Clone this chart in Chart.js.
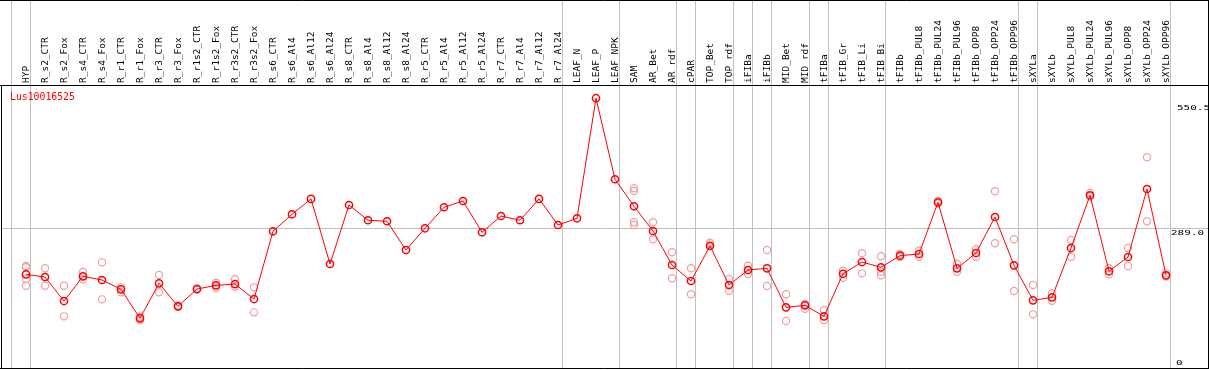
<!DOCTYPE html>
<html>
<head>
<meta charset="utf-8">
<script src="https://cdn.jsdelivr.net/npm/chart.js@4.4.1/dist/chart.umd.min.js"></script>
<style>
  html, body { margin: 0; padding: 0; background: #fff; }
  #wrap { width: 1209px; height: 370px; }
</style>
</head>
<body>
<div id="wrap"><canvas id="chart" width="1209" height="370"></canvas></div>
<script>
const geneId = 'Lus10016525';

const categories = [
  'HYP', 'R_s2_CTR', 'R_s2_Fox', 'R_s4_CTR', 'R_s4_Fox', 'R_r1_CTR', 'R_r1_Fox',
  'R_r3_CTR', 'R_r3_Fox', 'R_r1s2_CTR', 'R_r1s2_Fox', 'R_r3s2_CTR', 'R_r3s2_Fox',
  'R_s6_CTR', 'R_s6_Al4', 'R_s6_Al12', 'R_s6_Al24', 'R_s8_CTR', 'R_s8_Al4',
  'R_s8_Al12', 'R_s8_Al24', 'R_r5_CTR', 'R_r5_Al4', 'R_r5_Al12', 'R_r5_Al24',
  'R_r7_CTR', 'R_r7_Al4', 'R_r7_Al12', 'R_r7_Al24', 'LEAF_N', 'LEAF_P', 'LEAF_NPK',
  'SAM', 'AR_Bet', 'AR_rdf', 'cPAR', 'TOP_Bet', 'TOP_rdf', 'iFIBa', 'iFIBb',
  'MID_Bet', 'MID_rdf', 'tFIBa', 'tFIB_Gr', 'tFIB_Li', 'tFIB_Bi', 'tFIBb',
  'tFIBb_PUL8', 'tFIBb_PUL24', 'tFIBb_PUL96', 'tFIBb_OPP8', 'tFIBb_OPP24', 'tFIBb_OPP96',
  'sXYLa', 'sXYLb', 'sXYLb_PUL8', 'sXYLb_PUL24', 'sXYLb_PUL96', 'sXYLb_OPP8',
  'sXYLb_OPP24', 'sXYLb_OPP96'
];

// mean expression (red line)
const means = [
  197.0, 191.6, 143.4, 193.0, 185.6, 166.9, 108.7, 179.0, 132.8, 167.5,
  174.9, 177.5, 147.4, 283.4, 317.5, 348.3, 217.7, 336.2, 305.5, 303.5,
  245.8, 289.4, 331.6, 344.2, 281.4, 314.1, 305.5, 348.3, 296.0, 309.5,
  550.5, 387.8, 333.6, 284.0, 215.7, 183.6, 253.9, 175.5, 205.7, 209.1,
  130.7, 134.8, 112.7, 198.2, 221.7, 211.1, 234.4, 237.8, 341.6, 209.1,
  239.8, 312.1, 215.1, 144.8, 150.8, 249.8, 355.7, 203.1, 231.8, 368.3,
  195.0
];

// replicates (pink circles), null where none shown
const repA = [
  213.7, 209.1, 174.1, 201.6, 221.1, 170.9, 111.9, 195.6, 132.0, 166.5,
  180.2, 187.0, 170.9, null, null, null, null, null, null, null,
  null, null, null, null, null, null, null, null, null, null,
  null, null, 369.8, 301.5, 241.2, 209.1, 260.5, 187.6, 214.3, 245.8,
  156.9, 137.4, 125.3, 204.3, 239.2, 233.2, 237.8, 244.4, 344.8, 217.7,
  247.2, 363.7, 267.3, 175.5, 158.9, 265.9, 360.3, 209.1, 249.8, 432.0,
  199.0
];
const repB = [
  211.1, 174.1, 112.7, 187.0, 146.8, 160.9, 104.6, 160.9, 134.4, 168.5,
  170.1, 172.1, 120.7, null, null, null, null, null, null, null,
  null, null, null, null, null, null, null, null, null, null,
  null, null, 364.3, 267.3, 189.0, 156.9, 256.9, 164.1, 197.6, 173.5,
  103.2, 127.9, 105.2, 190.2, 199.0, 202.2, 232.4, 232.4, 339.2, 202.2,
  231.8, 259.3, 163.5, 116.7, 144.0, 232.4, 353.3, 197.0, 213.7, 303.5,
  192.6
];
const repC = { 0: 187.6, 32: 301.5, 45: 195.0 };
const repD = { 0: 174.1, 32: 296.0 };

// grey separators drawn just after these category indices
const groupBreaks = [-1, 0, 28, 31, 34, 35, 37, 38, 39, 41, 42, 45, 52, 53, 60];
const yLabels = [550.5, 289.0, 0];

const lineData = means.map((v, i) => ({ x: i, y: v }));
const repData = [];
[repA, repB].forEach(arr => arr.forEach((v, i) => { if (v != null) repData.push({ x: i, y: v }); }));
[repC, repD].forEach(o => Object.keys(o).forEach(k => repData.push({ x: +k, y: o[k] })));

const mono = 'DejaVu Sans Mono';

const decorations = {
  id: 'decorations',
  beforeDatasetsDraw(chart) {
    const { ctx, scales: { x }, chartArea } = chart;
    ctx.save();
    ctx.strokeStyle = '#c0c0c0';
    ctx.lineWidth = 1;
    groupBreaks.forEach(b => {
      const px = Math.round(x.getPixelForValue(b + 0.215)) + 0.5;
      ctx.beginPath();
      ctx.moveTo(px, 0);
      ctx.lineTo(px, chartArea.bottom);
      ctx.stroke();
    });
    ctx.restore();
  },
  afterDraw(chart) {
    const { ctx, scales: { y }, chartArea, width } = chart;
    ctx.save();
    // frame
    ctx.strokeStyle = '#000';
    ctx.lineWidth = 1;
    ctx.beginPath();
    ctx.moveTo(0, 0.5); ctx.lineTo(width, 0.5);
    ctx.moveTo(0, chartArea.top + 0.5); ctx.lineTo(chartArea.right + 1, chartArea.top + 0.5);
    ctx.moveTo(0, chartArea.bottom - 0.5); ctx.lineTo(chartArea.right + 1, chartArea.bottom - 0.5);
    ctx.moveTo(chartArea.left + 0.5, chartArea.top); ctx.lineTo(chartArea.left + 0.5, chartArea.bottom);
    ctx.moveTo(chartArea.right + 0.5, 0); ctx.lineTo(chartArea.right + 0.5, chartArea.bottom);
    ctx.stroke();

    // gene id
    ctx.fillStyle = '#ff0000';
    ctx.font = `9.8px "${mono}"`;
    ctx.textBaseline = 'middle';
    ctx.textAlign = 'left';
    ctx.fillText(geneId, chartArea.left + 9, chartArea.top + 12.5);

    // value labels on the right
    ctx.fillStyle = '#000';
    ctx.font = `11px "${mono}"`;
    ctx.textBaseline = 'top';
    const shifts = { 550.5: [1177, 5.8], 289: [1171, 0.5], 0: [1176, 0] };
    yLabels.forEach(v => {
      const [lx, dy] = shifts[v];
      let top = y.getPixelForValue(v) + dy;
      top = Math.min(top, chartArea.bottom - 10);
      ctx.save();
      ctx.translate(lx, top);
      ctx.scale(1, 0.66);
      ctx.fillText(v === 0 ? '0' : v.toFixed(1), 0, 0);
      ctx.restore();
    });
    ctx.restore();
  }
};

new Chart(document.getElementById('chart'), {
  data: {
    datasets: [
      {
        type: 'line',
        data: lineData,
        borderColor: '#ff0000',
        borderWidth: 1,
        pointRadius: 3.6,
        pointBorderWidth: 1.5,
        pointBorderColor: '#ff0000',
        pointBackgroundColor: 'rgba(0,0,0,0)',
        tension: 0,
        order: 0
      },
      {
        type: 'scatter',
        data: repData,
        pointRadius: 3.6,
        pointBorderWidth: 1.2,
        pointBorderColor: '#f0a0a0',
        pointBackgroundColor: 'rgba(0,0,0,0)',
        order: 1
      }
    ]
  },
  options: {
    responsive: false,
    animation: false,
    devicePixelRatio: 1,
    layout: { autoPadding: false, padding: { left: 1, right: 1, top: 0, bottom: 1 } },
    plugins: { legend: { display: false }, tooltip: { enabled: false } },
    scales: {
      x: {
        type: 'linear',
        position: 'top',
        min: -1.3158,
        max: 62.21,
        afterBuildTicks: s => { s.ticks = categories.map((c, i) => ({ value: i })); },
        afterFit: s => { s.height = 85; s.paddingLeft = 0; s.paddingRight = 0; },
        grid: { display: false, drawTicks: false },
        border: { display: false },
        ticks: {
          autoSkip: false,
          minRotation: 90,
          maxRotation: 90,
          padding: 2,
          labelOffset: 12,
          color: '#000',
          font: { family: mono, size: 9.5 },
          callback: v => categories[v] ?? ''
        }
      },
      y: {
        type: 'linear',
        min: 7,
        max: 577,
        afterBuildTicks: s => { s.ticks = [{ value: 289 }]; },
        afterFit: s => { s.width = 0; s.paddingTop = 0; s.paddingBottom = 0; },
        grid: { color: '#c0c0c0', drawTicks: false, lineWidth: 1 },
        border: { display: false },
        ticks: { display: false }
      }
    }
  },
  plugins: [decorations]
});
</script>
</body>
</html>
